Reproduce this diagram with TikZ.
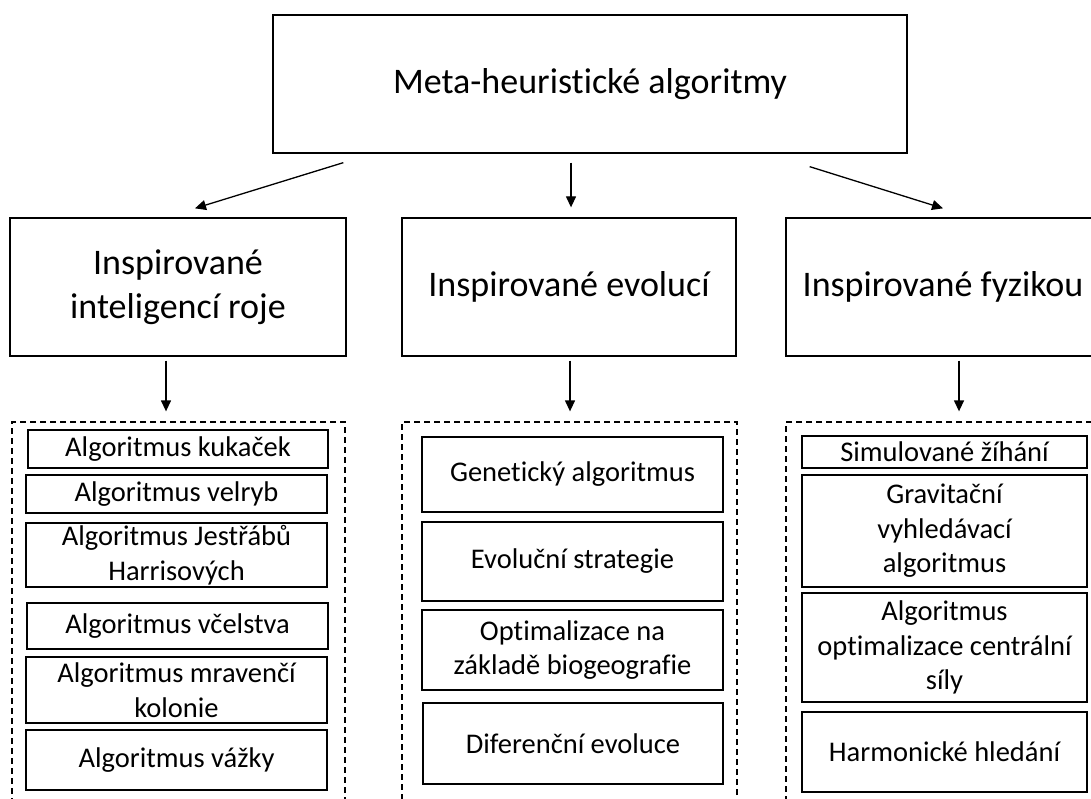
\documentclass[tikz,border=0pt]{standalone}
\usepackage{fontspec}
\setmainfont{Carlito}[Ligatures=NoCommon]
\usetikzlibrary{arrows.meta}
\tikzset{
    box/.style={draw, line width=1.3pt, inner sep=0pt, align=center},
    headbox/.style={box, font=\fontsize{36}{44}\selectfont},
    algbox/.style={box, line width=1.5pt, font=\fontsize{28.5}{34.5}\selectfont},
    groupbox/.style={draw, line width=1.3pt, dash pattern=on 6pt off 4pt, inner sep=0pt},
    arr/.style={line width=1.3pt, -{Triangle[length=11pt,width=10pt]}}
}
\begin{document}
\begin{tikzpicture}[x=1pt,y=-1pt]
    \useasboundingbox (0,0) rectangle (1091,799);
    % top and second row
    \node[headbox, minimum width=634pt, minimum height=138pt] (meta) at (590,84) {Meta-heuristické algoritmy};
    \node[headbox, minimum width=336pt, minimum height=138pt] (swarm) at (178,287) {Inspirované\\inteligencí roje};
    \node[headbox, minimum width=334pt, minimum height=138pt] (evo) at (569,287) {Inspirované evolucí};
    \node[headbox, minimum width=314pt, minimum height=138pt] (phys) at (943,287) {Inspirované fyzikou};
    \draw[arr] ([xshift=71pt,yshift=-9pt]meta.south west) -- ([xshift=17pt,yshift=9pt]swarm.north);
    \draw[arr] ([xshift=-19pt,yshift=-9pt]meta.south) -- ([xshift=2pt,yshift=10pt]evo.north);
    \draw[arr] ([xshift=-98pt,yshift=-13pt]meta.south east) -- ([yshift=9pt]phys.north);
    % dashed groups
    \node[groupbox, minimum width=333pt, minimum height=388pt] (swarmlist) at (178.5,616) {};
    \node[groupbox, minimum width=335pt, minimum height=388pt] (evolist) at (569.5,616) {};
    \node[groupbox, minimum width=314pt, minimum height=388pt] (physlist) at (943,616) {};
    \draw[arr] ([xshift=-12pt,yshift=-4pt]swarm.south) -- ([xshift=-12.5pt,yshift=10pt]swarmlist.north);
    \draw[arr] ([xshift=1pt,yshift=-4pt]evo.south) -- ([xshift=0.5pt,yshift=10pt]evolist.north);
    \draw[arr] ([xshift=16pt,yshift=-4pt]phys.south) -- ([xshift=16pt,yshift=10pt]physlist.north);
    % swarm algorithms
    \node[algbox, minimum width=300pt, minimum height=38pt] (kukacka) at (178,449) {Algoritmus kukaček};
    \node[algbox, minimum width=301pt, minimum height=38pt] (velryba) at (176.5,494) {Algoritmus velryb};
    \node[algbox, minimum width=301pt, minimum height=64pt] (jestrab) at (176.5,555) {Algoritmus Jestřábů\\Harrisových};
    \node[algbox, minimum width=301pt, minimum height=46pt] (vcela) at (177.5,626) {Algoritmus včelstva};
    \node[algbox, minimum width=301pt, minimum height=66pt] (mravenec) at (176.5,690) {Algoritmus mravenčí\\kolonie};
    \node[algbox, minimum width=301pt, minimum height=60pt] (vazka) at (176.5,760) {Algoritmus vážky};
    % evolution algorithms
    \node[algbox, minimum width=301pt, minimum height=75pt] (genetic) at (572.5,474.5) {Genetický algoritmus};
    \node[algbox, minimum width=301pt, minimum height=79pt] (strategy) at (572.5,561.5) {Evoluční strategie};
    \node[algbox, minimum width=301pt, minimum height=80pt] (biogeo) at (572.5,650) {Optimalizace na\\základě biogeografie};
    \node[algbox, minimum width=300pt, minimum height=81pt] (diffevo) at (573,743.5) {Diferenční evoluce};
    % physics algorithms
    \node[algbox, minimum width=285pt, minimum height=32pt] (annealing) at (944.5,452) {Simulované žíhání};
    \node[algbox, minimum width=285pt, minimum height=112pt] (gravity) at (944.5,531) {Gravitační\\vyhledávací\\algoritmus};
    \node[algbox, minimum width=285pt, minimum height=109pt] (central) at (944.5,647.5) {Algoritmus\\optimalizace centrální\\síly};
    \node[algbox, minimum width=285pt, minimum height=80pt] (harmony) at (944.5,752) {Harmonické hledání};
\end{tikzpicture}
\end{document}
